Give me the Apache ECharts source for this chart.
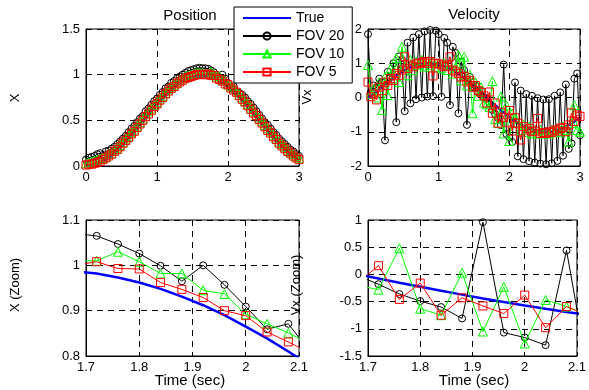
<!DOCTYPE html>
<html><head><meta charset="utf-8">
<script src="https://cdn.jsdelivr.net/npm/echarts@6/dist/echarts.min.js"></script>
<style>html,body{margin:0;padding:0;background:#fff}#c{width:589px;height:390px}</style>
</head><body><div id="c"></div>
<script>
// Sample times (sec)
const T = [0,0.04,0.08,0.12,0.16,0.2,0.24,0.28,0.32,0.36,0.4,0.44,0.48,0.52,0.56,0.6,0.64,0.68,0.72,0.76,0.8,0.84,0.88,0.92,0.96,1,1.04,1.08,1.12,1.16,1.2,1.24,1.28,1.32,1.36,1.4,1.44,1.48,1.52,1.56,1.6,1.64,1.68,1.72,1.76,1.8,1.84,1.88,1.92,1.96,2,2.04,2.08,2.12,2.16,2.2,2.24,2.28,2.32,2.36,2.4,2.44,2.48,2.52,2.56,2.6,2.64,2.68,2.72,2.76,2.8,2.84,2.88,2.92,2.96,3];

// Position
const xTrue = [0,0.002,0.006,0.013,0.024,0.037,0.052,0.071,0.092,0.115,
 0.141,0.169,0.198,0.229,0.262,0.297,0.333,0.370,0.407,0.445,
 0.483,0.521,0.559,0.597,0.634,0.671,0.706,0.740,0.772,0.803,
 0.832,0.859,0.884,0.907,0.927,0.944,0.959,0.971,0.980,0.986,
 0.989,0.990,0.987,0.982,0.973,0.962,0.948,0.931,0.912,0.890,
 0.865,0.839,0.810,0.780,0.748,0.715,0.679,0.643,0.607,0.569,
 0.531,0.493,0.454,0.416,0.379,0.342,0.307,0.272,0.239,0.207,
 0.177,0.148,0.122,0.098,0.077,0.057];
const xFov20 = [0.07,0.09,0.10,0.11,0.13,0.14,0.12,0.16,0.17,0.19,
 0.21,0.24,0.27,0.30,0.33,0.37,0.41,0.44,0.48,0.52,
 0.55,0.60,0.63,0.67,0.71,0.74,0.78,0.81,0.85,0.87,
 0.91,0.93,0.96,0.98,1.00,1.02,1.04,1.05,1.06,1.07,
 1.075,1.07,1.07,1.065,1.047,1.026,0.999,0.965,1.000,0.957,
 0.909,0.859,0.871,0.81,0.80,0.78,0.75,0.71,0.68,0.64,
 0.60,0.56,0.52,0.48,0.45,0.41,0.37,0.34,0.30,0.27,
 0.24,0.21,0.18,0.16,0.13,0.11];
const xFov10 = [0.03,0.04,0.05,0.06,0.07,0.08,0.09,0.10,0.13,0.14,
 0.17,0.20,0.23,0.26,0.30,0.33,0.37,0.40,0.44,0.48,
 0.52,0.55,0.60,0.63,0.67,0.70,0.74,0.77,0.80,0.84,
 0.86,0.89,0.91,0.94,0.96,0.98,0.99,1.00,1.01,1.02,
 1.02,1.02,1.01,1.010,1.030,1.008,0.982,0.982,0.945,0.937,
 0.892,0.871,0.851,0.827,0.78,0.75,0.71,0.68,0.64,0.60,
 0.56,0.53,0.49,0.45,0.41,0.38,0.34,0.30,0.27,0.24,
 0.21,0.18,0.15,0.13,0.11,0.09];
const xFov5 = [0.01,0.02,0.02,0.03,0.04,0.05,0.07,0.09,0.11,0.13,
 0.16,0.18,0.21,0.25,0.28,0.31,0.35,0.38,0.42,0.46,
 0.50,0.54,0.57,0.61,0.65,0.68,0.72,0.75,0.79,0.82,
 0.85,0.87,0.90,0.92,0.94,0.96,0.97,0.98,0.99,1.00,
 1.005,1.00,1.00,1.008,0.993,0.992,0.962,0.947,0.929,0.900,
 0.889,0.853,0.831,0.807,0.77,0.73,0.70,0.66,0.62,0.58,
 0.55,0.51,0.47,0.43,0.39,0.36,0.32,0.29,0.25,0.22,
 0.19,0.16,0.14,0.11,0.09,0.07];

// Velocity
const vTrue = [0,0.019,0.095,0.171,0.245,0.318,0.389,0.458,0.525,0.588,
 0.648,0.704,0.756,0.803,0.846,0.884,0.917,0.945,0.967,0.984,
 0.994,1.000,0.999,0.992,0.980,0.962,0.938,0.909,0.875,0.836,
 0.792,0.744,0.691,0.633,0.573,0.508,0.442,0.372,0.300,0.227,
 0.152,0.076,0.000,-0.076,-0.152,-0.226,-0.300,-0.372,-0.442,-0.508,
 -0.572,-0.633,-0.691,-0.744,-0.792,-0.836,-0.875,-0.909,-0.938,-0.962,
 -0.980,-0.992,-0.999,-1.000,-0.994,-0.984,-0.967,-0.945,-0.917,-0.884,
 -0.846,-0.803,-0.756,-0.704,-0.648,-0.588];
const vFov20 = [1.85,0.15,0.35,0.3,0.55,0.45,-1.25,0.75,0.6,1.0,
 -0.72,1.2,0.95,-0.40,1.6,-0.17,1.75,-0.05,1.85,0.0,
 1.93,0.03,1.97,0.04,1.95,1.85,0.02,1.74,1.6,-0.22,
 1.48,1.3,-0.46,1.05,0.8,-0.80,0.6,0.3,0.35,0.15,
 0.2,0.0,-0.02,-0.18,-0.36,-0.49,-0.60,-0.81,0.96,-1.07,
 -1.16,-1.30,0.44,-1.72,0.2,-1.8,0.1,-1.86,0.05,-1.9,
 -0.02,-1.93,-0.06,-1.95,-0.05,-1.92,0.05,-1.85,0.15,-1.7,
 0.38,-1.5,-1.34,0.55,0.7,-1.1];
const vFov10 = [0.95,0.1,0.25,0.0,0.45,-0.36,0.6,0.07,0.85,0.55,
 1.15,0.45,1.48,0.9,0.65,1.1,0.8,1.05,0.95,1.1,
 0.9,1.05,0.95,1.05,0.9,1.0,0.85,1.0,0.8,0.95,
 0.7,0.9,1.24,0.5,1.19,0.35,0.66,-0.46,0.45,0.05,
 0.3,-0.15,-0.2,-0.28,0.48,-0.63,-0.75,0.03,-1.05,-0.23,
 -1.27,-0.47,-0.59,-0.75,-0.95,-0.8,-1.0,-0.85,-1.05,-0.95,
 -1.05,-0.95,-1.05,-1.0,-1.05,-0.95,-1.0,-0.92,-1.0,-0.85,
 -0.95,-1.29,-0.75,-0.22,-0.95,-1.0];
const vFov5 = [0.45,0.02,0.1,-0.07,0.3,0.2,0.45,0.35,0.55,0.5,
 0.7,0.65,0.8,1.19,0.85,0.95,0.9,0.98,1.0,1.02,
 1.05,1.0,1.05,0.63,1.0,0.98,0.95,0.9,0.92,1.19,
 0.8,0.75,0.7,0.6,0.62,0.45,0.5,0.3,0.35,0.2,
 0.15,0.05,-0.16,0.16,-0.46,-0.16,-0.75,-0.43,-0.58,-0.72,
 -0.38,-0.98,-0.59,-0.75,-1.24,-0.85,-0.95,-0.9,-1.0,-0.98,
 -0.61,-1.05,-1.02,-1.05,-1.0,-1.02,-0.95,-0.98,-0.9,-0.88,
 -1.0,-0.8,-0.45,-0.7,-0.51,-0.55];

const seriesNames = ['True','FOV 20','FOV 10','FOV 5'];
const FONT = '"Liberation Sans", Arial, Helvetica, sans-serif';

const grids = [
  {left:86, top:29, width:213, height:137},
  {left:368, top:29, width:212, height:137},
  {left:86, top:220, width:213, height:136},
  {left:368, top:220, width:213, height:136}
];
const xRanges = [[0,3,1],[0,3,1],[1.7,2.1,0.1],[1.7,2.1,0.1]];
const yRanges = [[0,1.5,0.5],[-2,2,1],[0.8,1.1,0.1],[-1.5,1,0.5]];
const panelData = [
  [xTrue,xFov20,xFov10,xFov5],
  [vTrue,vFov20,vFov10,vFov5],
  [xTrue,xFov20,xFov10,xFov5],
  [vTrue,vFov20,vFov10,vFov5]
];

function fmt(v){ return String(+v.toFixed(2)); }
function axis(i, r, isX){
  return {
    type:'value', gridIndex:i, min:r[0], max:r[1], interval:r[2],
    axisLine:{show:true, onZero:false, lineStyle:{color:'#000', width:1}},
    axisTick:{show:true, inside:true, length:3, lineStyle:{color:'#000'}},
    splitLine:{show:true, lineStyle:{color:'#000', type:[6,5], width:1}},
    axisLabel:{color:'#000', fontSize:13, fontFamily:FONT, formatter:fmt, margin: isX ? 5 : 6}
  };
}

const styles = [
  {symbol:'none', lineStyle:{color:'#0000ff', width:2.5}, itemStyle:{color:'#0000ff'}},
  {symbol:'circle', symbolSize:7, lineStyle:{color:'#000000', width:1},
   itemStyle:{color:'transparent', borderColor:'#000000', borderWidth:1}},
  {symbol:'triangle', symbolSize:9, lineStyle:{color:'#00ff00', width:1},
   itemStyle:{color:'transparent', borderColor:'#00ff00', borderWidth:1}},
  {symbol:'rect', symbolSize:8, lineStyle:{color:'#ff0000', width:1},
   itemStyle:{color:'transparent', borderColor:'#ff0000', borderWidth:1}}
];

const series = [];
for (let g = 0; g < 4; g++) {
  for (let s = 0; s < 4; s++) {
    const arr = panelData[g][s];
    series.push(Object.assign({
      type:'line', name:seriesNames[s], xAxisIndex:g, yAxisIndex:g,
      data: T.map((t,i)=>[t, arr[i]]), clip:true, showAllSymbol:true,
      emphasis:{disabled:true}, silent:true, z: 2 + s
    }, styles[s]));
  }
}

function txt(x, y, text, size, rot){
  return {type:'text', x:x, y:y, rotation: rot || 0, z:100,
    style:{text:text, fill:'#000', font: size + 'px ' + FONT, textAlign:'center', textVerticalAlign:'middle'}};
}

const chart = echarts.init(document.getElementById('c'), null, {renderer:'canvas'});
chart.setOption({
  animation:false,
  backgroundColor:'#fff',
  grid: grids.map(g => Object.assign({show:true, borderColor:'#000', borderWidth:1, backgroundColor:'#fff'}, g)),
  xAxis: xRanges.map((r,i)=>axis(i,r,true)),
  yAxis: yRanges.map((r,i)=>axis(i,r,false)),
  legend: {
    data: [
      {name:'True', itemStyle:{opacity:0}},
      {name:'FOV 20'}, {name:'FOV 10'}, {name:'FOV 5'}
    ],
    orient:'vertical', left:234, top:7,
    padding:[4,8,4,8], itemGap:4, itemWidth:48, itemHeight:9,
    backgroundColor:'#fff', borderColor:'#000', borderWidth:1,
    textStyle:{color:'#000', fontSize:14, fontFamily:FONT},
    selectedMode:false, z:50
  },
  graphic: [
    txt(190,16,'Position',15),
    txt(474,15,'Velocity',15),
    txt(190,381,'Time (sec)',15),
    txt(474,381,'Time (sec)',15),
    txt(15,98,'X',13,Math.PI/2),
    txt(307,97,'Vx',13,Math.PI/2),
    txt(15,285,'X (Zoom)',13,Math.PI/2),
    txt(296,285,'Vx (Zoom)',13,Math.PI/2)
  ],
  series: series
});
</script></body></html>
